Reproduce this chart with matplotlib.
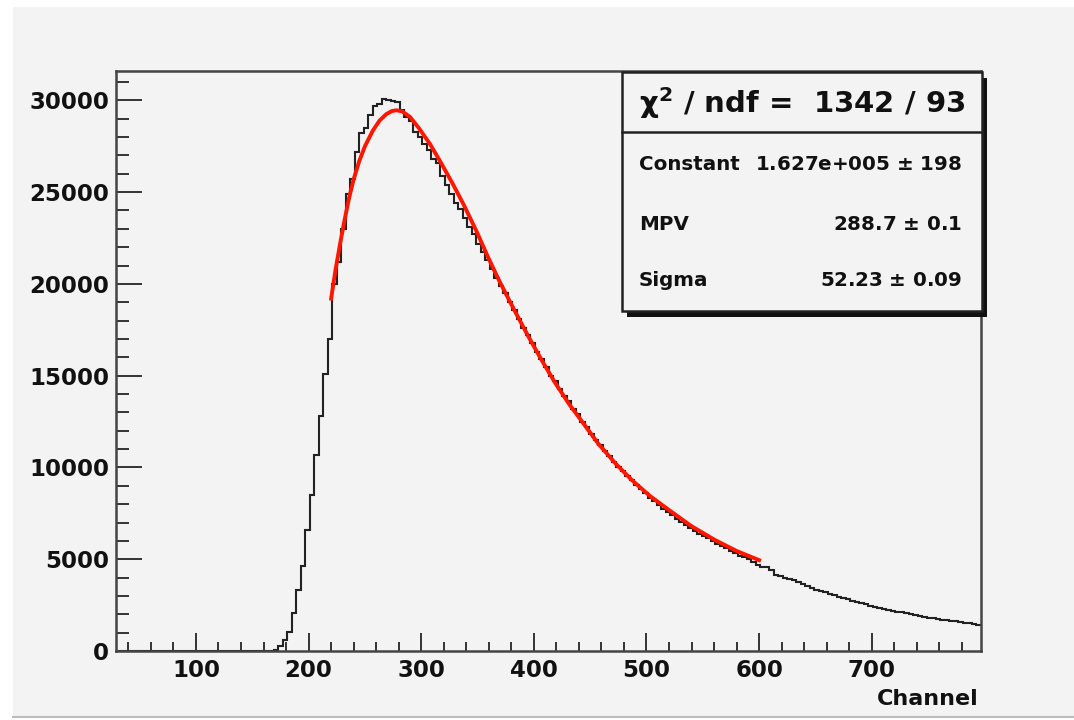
import numpy as np
import matplotlib.pyplot as plt
from matplotlib.patches import Rectangle
from matplotlib.ticker import MultipleLocator

plt.rcParams['font.family'] = ['DejaVu Sans']
plt.rcParams['font.weight'] = 'bold'
plt.rcParams['mathtext.default'] = 'regular'

# histogram: 4-channel bins starting at channel 29
bin_lo = 29
bin_width = 4
counts = ([0] * 34 +
          [20, 80, 250, 600, 1050, 2050, 3300, 4650, 6600, 8500, 10700, 12800,
           15100, 17000, 20000, 21200, 23000, 24900, 25700, 27200, 28200, 28500,
           29200, 29700, 29800, 30100, 30000, 29950, 29900, 29500, 29100, 28900,
           28300, 28000, 27600, 27300, 26800, 26600, 25900, 25400, 24900, 24400,
           24100, 23600, 23100, 22700, 22200, 21750, 21300, 20800, 20300, 19900,
           19500, 19000, 18600, 18100, 17600, 17200, 16800, 16300, 15900, 15500,
           15000, 14700, 14300, 13900, 13600, 13200, 12900, 12500, 12200, 11800,
           11500, 11200, 10900, 10600, 10300, 10000, 9800, 9550, 9300, 9050,
           8800, 8600, 8350, 8150, 7950, 7750, 7600, 7400, 7200, 7050, 6850,
           6700, 6550, 6400, 6250, 6150, 6000, 5850, 5700, 5600, 5450, 5350,
           5200, 5100, 5000, 4850, 4700, 4600, 4550, 4400, 4150, 4100, 4000,
           3950, 3850, 3750, 3650, 3550, 3450, 3350, 3250, 3200, 3100, 3050,
           2950, 2900, 2850, 2750, 2650, 2600, 2550, 2450, 2400, 2350, 2300,
           2250, 2200, 2150, 2100, 2050, 2000, 1950, 1900, 1850, 1820, 1780,
           1750, 1700, 1680, 1650, 1620, 1580, 1540, 1500, 1460, 1420])

# Landau fit curve
fit_x = [220, 224, 228, 232, 236, 240, 245, 250, 257, 263, 269, 274, 278, 283,
         290, 298, 308, 318, 328, 338, 349, 359, 369, 383, 395, 407, 419, 431,
         444, 457, 472, 487, 503, 520, 540, 561, 580, 600]
fit_y = [19200, 20800, 22200, 23500, 24700, 25700, 26700, 27500, 28350, 28900,
         29250, 29420, 29460, 29400, 29100, 28480, 27600, 26550, 25450, 24280,
         22880, 21500, 20200, 18530, 17150, 15840, 14600, 13480, 12400, 11310,
         10250, 9310, 8450, 7680, 6800, 6040, 5450, 4950]

stats_title = r'$\chi^{2}$ / ndf =  1342 / 93'
stats_names = ['Constant', 'MPV', 'Sigma']
stats_values = ['1.627e+005 $\\pm$ 198', '288.7 $\\pm$ 0.1', '52.23 $\\pm$ 0.09']

W, H = 1074, 720
bg = '#f3f3f3'


def fx(x):
    return x / W


def fy(y):
    return 1 - y / H


fig = plt.figure(figsize=(W / 100, H / 100), dpi=100, facecolor='white')
fig.patches.append(Rectangle((fx(13), fy(718)), 1, fy(7) - fy(718),
                             transform=fig.transFigure, facecolor=bg,
                             edgecolor='none', zorder=-10))
fig.add_artist(plt.Line2D([fx(13), 1], [fy(717), fy(717)], color='#bbbbbb', lw=1.5))

ax = fig.add_axes([fx(116), fy(651), fx(981) - fx(116), fy(71) - fy(651)])
ax.set_facecolor('none')

edges = bin_lo + bin_width * np.arange(len(counts) + 1)
ax.stairs(counts, edges, color='#222222', lw=1.5, baseline=None)
ax.plot(fit_x, fit_y, color='#ff1500', lw=2.8)

ax.set_xlim(edges[0], edges[-1])
ax.set_ylim(0, 31600)
ax.xaxis.set_major_locator(MultipleLocator(100))
ax.xaxis.set_minor_locator(MultipleLocator(20))
ax.yaxis.set_major_locator(MultipleLocator(5000))
ax.yaxis.set_minor_locator(MultipleLocator(1000))
ax.xaxis.set_ticks_position('bottom')
ax.yaxis.set_ticks_position('left')
ax.tick_params(axis='x', which='major', direction='in', length=13, width=1.4,
               color='#333333', labelsize=16.5, pad=6)
ax.tick_params(axis='x', which='minor', direction='in', length=6.5, width=1.4,
               color='#333333')
ax.tick_params(axis='y', which='major', direction='in', length=19, width=1.4,
               color='#333333', labelsize=16.5, pad=5)
ax.tick_params(axis='y', which='minor', direction='in', length=9.5, width=1.4,
               color='#333333')
ax.set_xticks([100, 200, 300, 400, 500, 600, 700])
for lab in ax.get_xticklabels() + ax.get_yticklabels():
    lab.set_fontweight('bold')
    lab.set_color('#111111')
for s in ax.spines.values():
    s.set_color('#444444')
    s.set_linewidth(1.8)

fig.text(fx(979), fy(699), 'Channel', ha='right', va='center', fontsize=16,
         fontweight='bold', color='#111111')

# stats box with shadow
bx0, by0, bx1, by1 = 622, 72, 982, 311
fig.patches.append(Rectangle((fx(bx0 + 5), fy(by1 + 6)), fx(bx1 - bx0), fy(by0) - fy(by1),
                             transform=fig.transFigure, facecolor='#111111',
                             edgecolor='none', zorder=5))
fig.patches.append(Rectangle((fx(bx0), fy(by1)), fx(bx1 - bx0), fy(by0) - fy(by1),
                             transform=fig.transFigure, facecolor=bg,
                             edgecolor='#222222', lw=1.8, zorder=6))
fig.add_artist(plt.Line2D([fx(bx0), fx(bx1)], [fy(132), fy(132)], color='#222222',
                          lw=1.8, zorder=7))
fig.text(fx((bx0 + bx1) / 2), fy(103), stats_title, ha='center', va='center',
         fontsize=21, fontweight='bold', color='#111111', zorder=8)
for name, val, yy in zip(stats_names, stats_values, [164, 224, 281]):
    fig.text(fx(639), fy(yy), name, ha='left', va='center', fontsize=14.3,
             fontweight='bold', color='#111111', zorder=8)
    fig.text(fx(962), fy(yy), val, ha='right', va='center', fontsize=14.3,
             fontweight='bold', color='#111111', zorder=8)

fig.savefig('out.png', dpi=100, facecolor='white')
